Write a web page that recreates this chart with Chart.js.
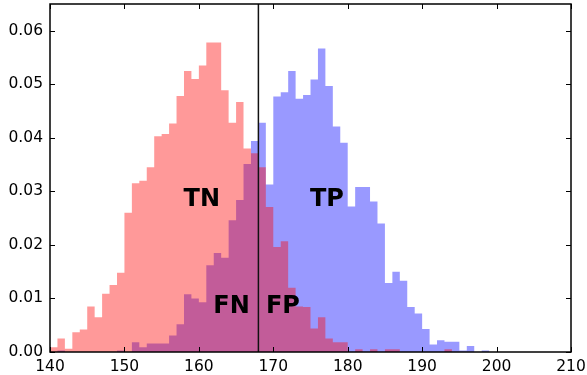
<!DOCTYPE html>
<html>
<head>
<meta charset="utf-8">
<script src="https://cdn.jsdelivr.net/npm/chart.js@4/dist/chart.umd.min.js"></script>
<style>
    html, body { margin: 0; padding: 0; background: #fff; }
    #wrap { width: 587px; height: 375px; }
</style>
</head>
<body>
<div id="wrap"><canvas id="histChart" width="587" height="375"></canvas></div>
<script>
    // datos del histograma (bins de ancho 1, desde 140)
    var binInicio = 140;
    var negativos = [0.0004, 0.0009, 0.0025, 0.0006, 0.0037, 0.0042, 0.0085, 0.0065, 0.0109, 0.0125,
        0.0148, 0.0260, 0.0315, 0.0320, 0.0345, 0.0403, 0.0407, 0.0427, 0.0478, 0.0525,
        0.0510, 0.0535, 0.0578, 0.0578, 0.0489, 0.0428, 0.0467, 0.0380, 0.0371, 0.0345,
        0.0271, 0.0196, 0.0207, 0.0120, 0.0085, 0.0084, 0.0044, 0.0065, 0.0025, 0.0018,
        0.0018, 0, 0.0005, 0, 0.0005, 0, 0.0005, 0.0005, 0, 0,
        0, 0, 0, 0, 0.0005, 0, 0, 0, 0, 0];
    var positivos = [0, 0, 0.0003, 0, 0, 0, 0, 0, 0, 0,
        0.0003, 0, 0.0018, 0.0009, 0.0016, 0.0016, 0.0016, 0.0031, 0.0052, 0.0108,
        0.0100, 0.0093, 0.0162, 0.0185, 0.0176, 0.0246, 0.0284, 0.0351, 0.0394, 0.0428,
        0.0313, 0.0477, 0.0485, 0.0525, 0.0473, 0.0480, 0.0509, 0.0567, 0.0497, 0.0421,
        0.0391, 0.0272, 0.0308, 0.0308, 0.0281, 0.0240, 0.0129, 0.0150, 0.0133, 0.0084,
        0.0072, 0.0043, 0.0014, 0.0022, 0.0019, 0.0019, 0.0003, 0.0011, 0, 0.0003];
    var umbral = 168;
    var xTicks = [140, 150, 160, 170, 180, 190, 200, 210];
    var yTicks = [0, 0.01, 0.02, 0.03, 0.04, 0.05, 0.06];
    var etiquetas = ['TN', 'TP', 'FN', 'FP'];
    var posEtiquetas = [[160.4, 0.0285], [177.2, 0.0285], [164.4, 0.0084], [171.3, 0.0084]];

    function pasos(valores) {
        var pts = valores.map(function (v, i) { return { x: binInicio + i, y: v }; });
        pts.push({ x: binInicio + valores.length, y: 0 });
        return pts;
    }

    // marco y ticks hacia adentro (estilo matplotlib)
    var marcoPlugin = {
        id: 'marco',
        afterDraw: function (chart) {
            var ctx = chart.ctx, a = chart.chartArea;
            var sx = chart.scales.x, sy = chart.scales.y;
            ctx.save();
            ctx.strokeStyle = '#000';
            ctx.lineWidth = 1;
            xTicks.forEach(function (t) {
                var px = Math.round(sx.getPixelForValue(t)) + 0.5;
                ctx.beginPath();
                ctx.moveTo(px, a.bottom); ctx.lineTo(px, a.bottom - 5);
                ctx.moveTo(px, a.top); ctx.lineTo(px, a.top + 5);
                ctx.stroke();
            });
            yTicks.forEach(function (t) {
                var py = Math.round(sy.getPixelForValue(t)) + 0.5;
                ctx.beginPath();
                ctx.moveTo(a.left, py); ctx.lineTo(a.left + 5, py);
                ctx.moveTo(a.right, py); ctx.lineTo(a.right - 5, py);
                ctx.stroke();
            });
            ctx.lineWidth = 1.5;
            ctx.strokeRect(a.left, a.top, a.right - a.left, a.bottom - a.top);
            ctx.restore();
        }
    };

    var textoPlugin = {
        id: 'textos',
        afterDatasetsDraw: function (chart) {
            var ctx = chart.ctx;
            var sx = chart.scales.x, sy = chart.scales.y;
            ctx.save();
            ctx.font = 'bold 24px "DejaVu Sans"';
            ctx.fillStyle = '#000';
            ctx.textAlign = 'center';
            ctx.textBaseline = 'middle';
            etiquetas.forEach(function (t, i) {
                ctx.fillText(t, sx.getPixelForValue(posEtiquetas[i][0]), sy.getPixelForValue(posEtiquetas[i][1]));
            });
            ctx.restore();
        }
    };

    var ctx = document.getElementById('histChart');
    var myChart = new Chart(ctx, {
        type: 'line',
        data: {
            datasets: [{
                label: 'negativos',
                data: pasos(negativos),
                stepped: 'after',
                fill: 'origin',
                backgroundColor: 'rgba(255, 0, 0, 0.4)',
                borderWidth: 0,
                pointRadius: 0,
                order: 1
            }, {
                label: 'positivos',
                data: pasos(positivos),
                stepped: 'after',
                fill: 'origin',
                backgroundColor: 'rgba(0, 0, 255, 0.4)',
                borderWidth: 0,
                pointRadius: 0,
                order: 2
            }, {
                label: 'umbral',
                data: [{ x: umbral, y: 0 }, { x: umbral, y: 0.065 }],
                borderColor: '#111',
                borderWidth: 1.5,
                pointRadius: 0,
                fill: false,
                order: 0
            }]
        },
        options: {
            responsive: false,
            animation: false,
            layout: { padding: { left: 0, right: 16, top: 4, bottom: 0 } },
            plugins: {
                legend: { display: false },
                tooltip: { enabled: false }
            },
            scales: {
                x: {
                    type: 'linear',
                    min: 140,
                    max: 210,
                    grid: { display: false, drawTicks: false },
                    border: { display: false },
                    ticks: {
                        stepSize: 10,
                        padding: 6,
                        color: '#000',
                        font: { family: 'DejaVu Sans', size: 15.5 },
                        maxRotation: 0
                    },
                    afterFit: function (scale) {
                        scale.height = 23;
                        scale.paddingLeft = 0;
                        scale.paddingRight = 0;
                    }
                },
                y: {
                    min: 0,
                    max: 0.065,
                    grid: { display: false, drawTicks: false },
                    border: { display: false },
                    ticks: {
                        stepSize: 0.01,
                        includeBounds: false,
                        padding: 7,
                        color: '#000',
                        font: { family: 'DejaVu Sans', size: 15.5 },
                        callback: function (v) { return v.toFixed(2); }
                    },
                    afterFit: function (scale) {
                        scale.width = 50;
                        scale.paddingTop = 0;
                        scale.paddingBottom = 0;
                    }
                }
            }
        },
        plugins: [marcoPlugin, textoPlugin]
    });
</script>
</body>
</html>
